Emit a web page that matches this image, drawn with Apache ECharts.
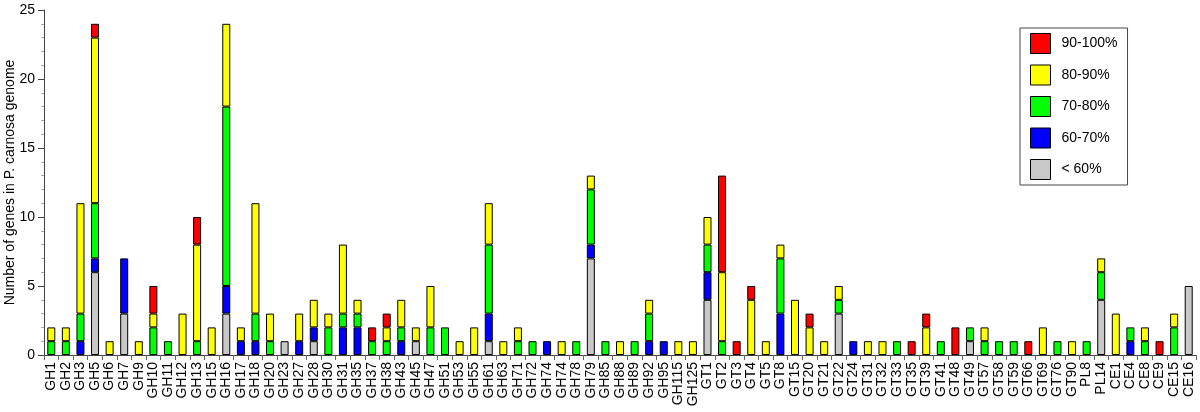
<!DOCTYPE html>
<html>
<head>
<meta charset="utf-8">
<script src="https://cdn.jsdelivr.net/npm/echarts@6/dist/echarts.min.js"></script>
<style>html,body{margin:0;padding:0;background:#fff;}#c{width:1200px;height:412px;}</style>
</head>
<body>
<div id="c"></div>
<script>
const categories = ['GH1','GH2','GH3','GH5','GH6','GH7','GH9','GH10','GH11','GH12','GH13','GH15','GH16','GH17','GH18','GH20','GH23','GH27','GH28','GH30','GH31','GH35','GH37','GH38','GH43','GH45','GH47','GH51','GH53','GH55','GH61','GH63','GH71','GH72','GH74','GH74','GH78','GH79','GH85','GH88','GH89','GH92','GH95','GH115','GH125','GT1','GT2','GT3','GT4','GT5','GT8','GT15','GT20','GT21','GT22','GT24','GT31','GT32','GT33','GT35','GT39','GT41','GT48','GT49','GT57','GT58','GT59','GT66','GT69','GT76','GT90','PL8','PL14','CE1','CE4','CE8','CE9','CE15','CE16'];

// values per category, same order as categories
const below60 = [0,0,0,6,0,3,0,0,0,0,0,0,3,0,0,0,1,0,1,0,0,0,0,0,0,1,0,0,0,0,1,0,0,0,0,0,0,7,0,0,0,0,0,0,0,4,0,0,0,0,0,0,0,0,3,0,0,0,0,0,0,0,0,1,0,0,0,0,0,0,0,0,4,0,0,0,0,0,5];
const p60_70 = [0,0,1,1,0,4,0,0,0,0,0,0,2,1,1,0,0,1,1,0,2,2,0,0,1,0,0,0,0,0,2,0,0,0,1,0,0,1,0,0,0,1,1,0,0,2,0,0,0,0,3,0,0,0,0,1,0,0,0,0,0,0,0,0,0,0,0,0,0,0,0,0,0,0,1,0,0,0,0];
const p70_80 = [1,1,2,4,0,0,0,2,1,0,1,0,13,0,2,1,0,0,0,2,1,1,1,1,1,0,2,2,0,0,5,0,1,1,0,0,1,4,1,0,1,2,0,0,0,2,1,0,0,0,4,0,0,0,1,0,0,0,1,0,0,1,0,1,1,1,1,0,0,1,0,1,2,0,1,1,0,2,0];
const p80_90 = [1,1,8,12,1,0,1,1,0,3,7,2,6,1,8,2,0,2,2,1,5,1,0,1,2,1,3,0,1,2,3,1,1,0,0,1,0,1,0,1,0,1,0,1,1,2,5,0,4,1,1,4,2,1,1,0,1,1,0,0,2,0,0,0,1,0,0,0,2,0,1,0,1,3,0,1,0,1,0];
const p90_100 = [0,0,0,1,0,0,0,2,0,0,2,0,0,0,0,0,0,0,0,0,0,0,1,1,0,0,0,0,0,0,0,0,0,0,0,0,0,0,0,0,0,0,0,0,0,0,7,1,1,0,0,0,1,0,0,0,0,0,0,1,1,0,2,0,0,0,0,1,0,0,0,0,0,0,0,0,1,0,0];

const seriesNames = ['< 60%','60-70%','70-80%','80-90%','90-100%'];
const seriesColors = ['#c8c8c8','#0000ff','#00ff00','#ffff00','#ff0000'];
const seriesValues = [below60, p60_70, p70_80, p80_90, p90_100];
const legendOrder = ['90-100%','80-90%','70-80%','60-70%','< 60%'];
const yTicks = {min:0, max:25, interval:5};

const font = 'Liberation Sans, Arial, sans-serif';
const chart = echarts.init(document.getElementById('c'), null, {renderer:'canvas'});
chart.setOption({
  animation:false,
  backgroundColor:'#fff',
  textStyle:{fontFamily:font},
  grid:{left:44, right:4, top:10, bottom:57, containLabel:false, outerBoundsMode:'none'},
  legend:{
    data:legendOrder, orient:'vertical', left:1020, top:28,
    padding:[5,10,5,10], itemWidth:20, itemHeight:20, itemGap:10.5,
    borderColor:'#444', borderWidth:1, backgroundColor:'#fff',
    icon:'rect',
    itemStyle:{borderColor:'#000', borderWidth:1},
    textStyle:{fontSize:14, color:'#000', fontFamily:font, padding:[0,0,0,6]}
  },
  xAxis:{
    type:'category', data:categories,
    axisLine:{lineStyle:{color:'#444', width:1}},
    axisTick:{show:true, length:5, lineStyle:{color:'#666'}, alignWithLabel:false},
    axisLabel:{rotate:90, interval:0, fontSize:14, color:'#000', margin:7, fontFamily:font}
  },
  yAxis:{
    type:'value', min:yTicks.min, max:yTicks.max, interval:yTicks.interval,
    name:'Number of genes in P. carnosa genome', nameLocation:'middle', nameGap:27,
    nameMoveOverlap:false,
    nameTextStyle:{fontSize:14, color:'#000', fontFamily:font},
    axisLine:{show:true, lineStyle:{color:'#444', width:1}},
    axisTick:{show:true, length:6, lineStyle:{color:'#444'}},
    minorTick:{show:true, splitNumber:5, length:3, lineStyle:{color:'#aaa'}},
    splitLine:{show:false},
    axisLabel:{fontSize:14, color:'#000', margin:9, fontFamily:font}
  },
  series: seriesNames.map((n,i)=>({
    name:n, type:'bar', stack:'all', barWidth:8,
    itemStyle:{color:seriesColors[i], borderColor:'#000', borderWidth:1},
    data: seriesValues[i].map(v=> v===0 ? '-' : v)
  }))
});
</script>
</body>
</html>
